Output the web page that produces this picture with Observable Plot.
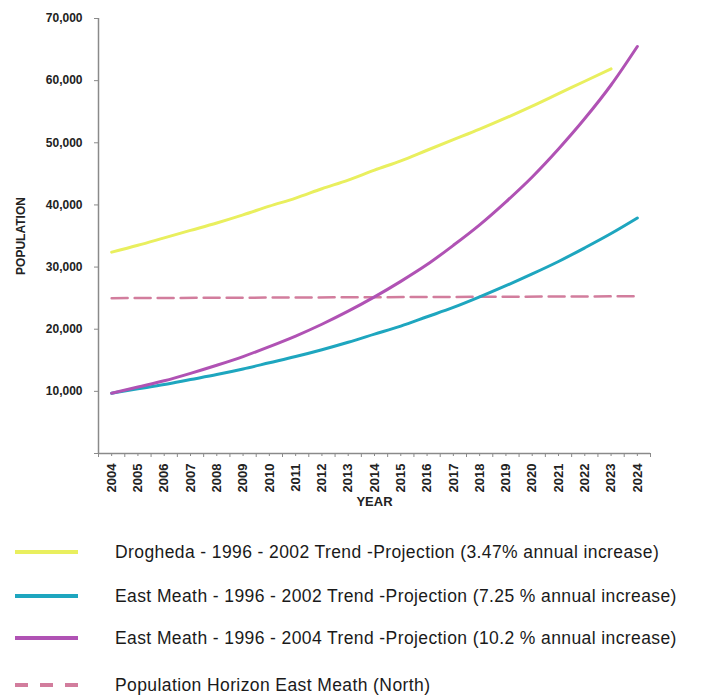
<!DOCTYPE html>
<html>
<head>
<meta charset="utf-8">
<script src="https://cdn.jsdelivr.net/npm/d3@7"></script>
<script src="https://cdn.jsdelivr.net/npm/@observablehq/plot@0.6"></script>
<style>
  body { margin: 0; background: #fff; font-family: "Liberation Sans", Arial, sans-serif; }
  #chart svg { display: block; }
  #legend { position: relative; width: 707px; height: 185px; }
  .row { position: absolute; left: 0; height: 0; }
  .sw { position: absolute; left: 15px; width: 63px; top: -2px; height: 4px; }
  .txt { position: absolute; left: 115px; top: -11px; white-space: nowrap; font-size: 17.5px; letter-spacing: 0.4px; color: #1a1a1a; line-height: 22px; }
</style>
</head>
<body>
<div id="chart"></div>
<div id="legend"></div>
<script>
// ---- data ----
const years = [2004, 2005, 2006, 2007, 2008, 2009, 2010, 2011, 2012, 2013, 2014,
               2015, 2016, 2017, 2018, 2019, 2020, 2021, 2022, 2023, 2024];
const droghedaYears = years.slice(0, 20); // line stops at 2023
const drogheda = [32400, 33500, 34700, 35900, 37100, 38400, 39800, 41100, 42600, 44000,
                  45600, 47100, 48800, 50500, 52200, 54000, 55900, 57900, 59900, 61900];
const eastMeath725 = [9700, 10400, 11100, 11900, 12700, 13600, 14600, 15600, 16700, 17900,
                      19200, 20500, 22000, 23500, 25200, 27000, 28900, 30900, 33100, 35400, 37900];
const eastMeath102 = [9700, 10700, 11700, 12900, 14200, 15600, 17200, 18900, 20800, 22900,
                      25200, 27700, 30400, 33500, 36800, 40500, 44500, 49000, 53900, 59300, 65500];
const horizonYears = [2004, 2024];
const horizon = [25000, 25300];
const yTicks = [0, 10000, 20000, 30000, 40000, 50000, 60000, 70000];

const seriesNames = [
  "Drogheda - 1996 - 2002 Trend -Projection (3.47% annual increase)",
  "East Meath - 1996 - 2002 Trend -Projection (7.25 % annual increase)",
  "East Meath - 1996 - 2004 Trend -Projection (10.2 % annual increase)",
  "Population Horizon East Meath (North)"
];
const seriesColors = ["#e9ef5e", "#1ea6bf", "#b052b4", "#d27d9d"];

// ---- build rows ----
const rows = [];
droghedaYears.forEach((y, i) => rows.push({series: seriesNames[0], year: y, value: drogheda[i]}));
years.forEach((y, i) => rows.push({series: seriesNames[1], year: y, value: eastMeath725[i]}));
years.forEach((y, i) => rows.push({series: seriesNames[2], year: y, value: eastMeath102[i]}));
const horizonRows = horizonYears.map((y, i) => ({series: seriesNames[3], year: y, value: horizon[i]}));

const halfYears = years.map(y => y - 0.5).concat([years[years.length - 1] + 0.5]);

const chart = Plot.plot({
  width: 707,
  height: 510,
  marginLeft: 98,
  marginRight: 57,
  marginTop: 18,
  marginBottom: 57,
  style: {fontFamily: "'Liberation Sans', Arial, sans-serif", fontSize: "12px", fontWeight: "bold", color: "#222", background: "#fff"},
  x: {domain: [2003.5, 2024.5]},
  y: {domain: [0, 70000]},
  color: {domain: seriesNames, range: seriesColors},
  marks: [
    Plot.axisY({ticks: yTicks, tickFormat: d => d === 0 ? "" : d3.format(",")(d), tickSize: 4, tickPadding: 12,
                stroke: "#8a8a8a", fill: "#222", fontSize: 12,
                label: "POPULATION", labelAnchor: "center", labelArrow: "none", labelOffset: 82}),
    Plot.axisX({ticks: years, tickFormat: d => String(d), tickRotate: -90, tickSize: 3, tickPadding: 7,
                stroke: "#8a8a8a", fill: "#222", fontSize: 13,
                label: "YEAR", labelAnchor: "center", labelArrow: "none", labelOffset: 52}),
    Plot.axisX({ticks: halfYears, tickFormat: () => "", tickSize: 4, stroke: "#8a8a8a", label: null}),
    Plot.ruleX([2003.5], {stroke: "#8a8a8a", strokeWidth: 1.5}),
    Plot.ruleY([0], {stroke: "#8a8a8a", strokeWidth: 1.5}),
    Plot.line(horizonRows, {x: "year", y: "value", stroke: "series", strokeWidth: 2.5, strokeDasharray: "16,7"}),
    Plot.line(rows, {x: "year", y: "value", z: "series", stroke: "series", strokeWidth: 3, curve: "monotone-x"})
  ]
});
document.getElementById("chart").appendChild(chart);

// ---- legend below the chart ----
const legend = d3.select("#legend");
const rowY = [42, 86, 128, 175];
seriesNames.forEach((name, i) => {
  const r = legend.append("div").attr("class", "row").style("top", rowY[i] + "px");
  const sw = r.append("div").attr("class", "sw");
  if (i === 3) {
    const c = seriesColors[i];
    sw.style("background", `linear-gradient(to right, ${c} 0 13px, transparent 13px 25px, ${c} 25px 38px, transparent 38px 50px, ${c} 50px 63px)`);
  } else {
    sw.style("background", seriesColors[i]);
  }
  r.append("div").attr("class", "txt").text(name);
});
</script>
</body>
</html>
